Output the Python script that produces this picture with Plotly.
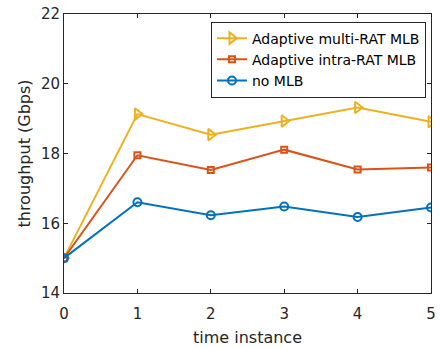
import plotly.graph_objects as go

x = [0, 1, 2, 3, 4, 5]
multi_rat = [15.0, 19.13, 18.54, 18.93, 19.32, 18.91]
intra_rat = [15.0, 17.95, 17.53, 18.11, 17.54, 17.60]
no_mlb = [15.0, 16.60, 16.23, 16.48, 16.18, 16.45]
y_ticks = [14, 16, 18, 20, 22]

names = ["Adaptive multi-RAT MLB", "Adaptive intra-RAT MLB", "no MLB"]
colors = ["#EDB120", "#D95319", "#0072BD"]
symbols = ["triangle-right-open", "square-open", "circle-open"]
sizes = [10, 6, 8]

FONT = "DejaVu Sans, Liberation Sans, Arial, sans-serif"
AX = "#262626"

fig = go.Figure()
for ys, name, c, s, sz in zip([multi_rat, intra_rat, no_mlb], names, colors, symbols, sizes):
    fig.add_trace(go.Scatter(
        x=x, y=ys, name=name, mode="lines+markers",
        line=dict(color=c, width=2),
        marker=dict(symbol=s, size=sz, color=c, line=dict(color=c, width=2)),
    ))

fig.update_layout(
    width=441, height=348,
    margin=dict(l=64, r=5, t=14, b=54),
    paper_bgcolor="white", plot_bgcolor="white",
    font=dict(family=FONT, size=15, color=AX),
    showlegend=True,
    legend=dict(
        x=0.4005, y=0.973, xanchor="left", yanchor="top",
        bordercolor=AX, borderwidth=1, bgcolor="white",
        font=dict(family=FONT, size=14, color="#000000"),
        tracegroupgap=0, itemwidth=30,
    ),
)
fig.update_xaxes(
    range=[0, 5], tickvals=x, ticktext=[str(v) for v in x],
    ticks="inside", ticklen=4, tickcolor=AX,
    showline=True, linecolor=AX, linewidth=1, mirror="ticks",
    showgrid=False, zeroline=False, ticklabelstandoff=7,
    title=dict(text="time instance", font=dict(size=16, color=AX), standoff=9),
    tickfont=dict(size=15, color=AX),
)
fig.update_yaxes(
    range=[14, 22], tickvals=y_ticks,
    ticks="inside", ticklen=4, tickcolor=AX,
    showline=True, linecolor=AX, linewidth=1, mirror="ticks",
    showgrid=False, zeroline=False,
    title=dict(text="throughput (Gbps)", font=dict(size=16, color=AX), standoff=6),
    tickfont=dict(size=15, color=AX),
)

fig.write_html("out.html", config={"displayModeBar": False},
               post_script="document.body.style.margin='0';document.body.style.overflow='hidden';")
html = open("out.html", encoding="utf-8").read()
html = html.replace("<head>", "<head><style>html,body{margin:0;padding:0;overflow:hidden;}</style>", 1)
open("out.html", "w", encoding="utf-8").write(html)
